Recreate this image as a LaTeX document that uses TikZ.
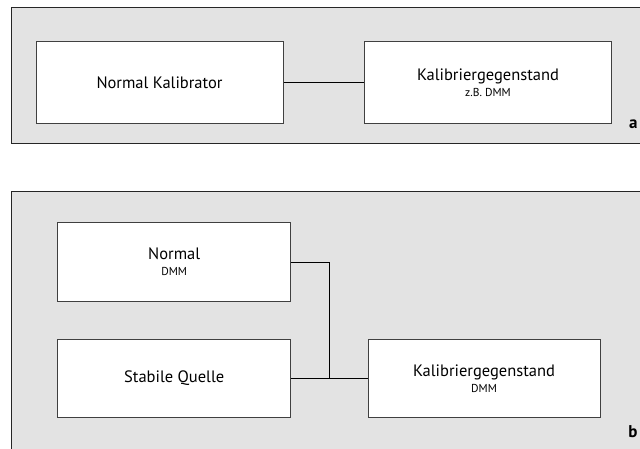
\documentclass[tikz,border=0pt]{standalone}
\usepackage{fontspec}
\setmainfont{PT Sans}
\newcommand\subtxt[1]{{\fontsize{11.5}{12}\selectfont #1}}
\tikzset{
    PA/.style ={draw=black!85, line width=1pt, fill=black!11},
    RA1/.style ={rectangle, draw=black!75, line width=1pt, fill=white, minimum width=247pt, minimum height=82pt, align=center, font=\fontsize{16.5}{17}\selectfont},
    RA2/.style ={RA1, minimum width=233pt, minimum height=78pt},
    LB/.style ={font=\fontsize{17}{18}\selectfont\bfseries, anchor=base east}}

\begin{document}
\begin{tikzpicture}[x=1pt,y=-1pt]
    \clip (0,0) rectangle (640,449);
    \useasboundingbox (0,0) rectangle (640,449);
    % panel a
    \draw[PA] (11,8) rectangle (700,144);
    \node[RA1] (a1) at (159.5,82.3) {Normal Kalibrator};
    \node[RA1] (a2) at (488,82.3) {Kalibriergegenstand\\[-1pt]\subtxt{z.B. DMM}};
    \draw[line width=0.8pt] (a1) -- (a2);
    \node[LB] (la) at (641,129) {a};
    % panel b
    \draw[PA] (11,192) rectangle (700,500);
    \node[RA2] (b1) at (174.2,262) {Normal\\[-1pt]\subtxt{DMM}};
    \node[RA2] (b2) at (174.2,378.5) {Stabile Quelle};
    \node[RA2, minimum width=232pt] (b3) at (484,378.5) {Kalibriergegenstand\\[-1pt]\subtxt{DMM}};
    \coordinate (j) at (329.3,378.5);
    \draw[line width=0.8pt] (b1) -| (j);
    \draw[line width=0.8pt] (b2) -- (b3);
    \node[LB] (lb) at (641,437) {b};
\end{tikzpicture}
\end{document}
